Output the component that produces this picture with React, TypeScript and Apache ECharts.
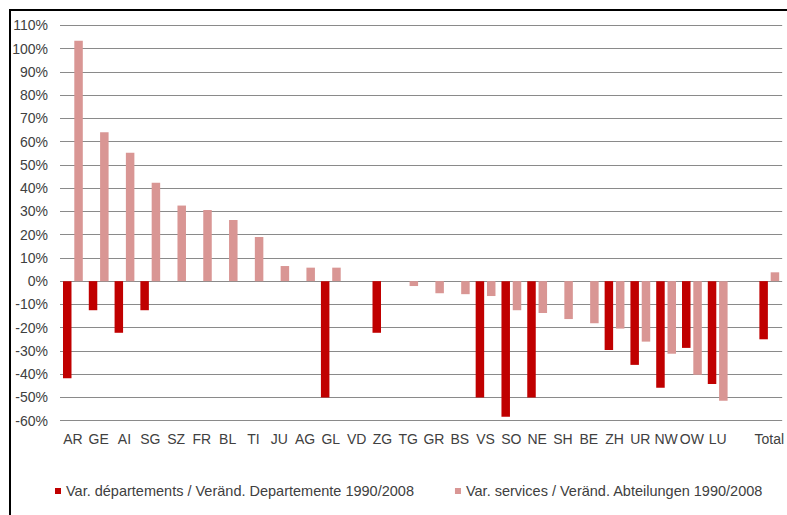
import React, { useEffect, useRef } from "react";
import * as echarts from "echarts";

const categories = ["AR", "GE", "AI", "SG", "SZ", "FR", "BL", "TI", "JU", "AG", "GL", "VD", "ZG", "TG", "GR", "BS", "VS", "SO", "NE", "SH", "BE", "ZH", "UR", "NW", "OW", "LU", "", "Total"];

const departements = [-41.7, -12.5, -22.2, -12.5, 0, 0, 0, 0, 0, 0, -50, 0, -22.2, 0, 0, 0, -50, -58.3, -50, 0, 0, -29.6, -36.0, -45.8, -28.7, -44.2, null, -25.0];

const services = [103.4, 64.0, 55.2, 42.3, 32.5, 30.6, 26.3, 19.0, 6.5, 5.8, 5.8, 0, 0, -2.1, -5.2, -5.6, -6.4, -12.5, -13.7, -16.3, -18.1, -20.4, -26.0, -31.2, -40.2, -51.4, null, 3.8];

const seriesNames = ["Var. départements / Veränd. Departemente 1990/2008", "Var. services / Veränd. Abteilungen 1990/2008"];

const yMin = -60;
const yMax = 110;
const yStep = 10;

const FONT = '"Liberation Sans", Arial, sans-serif';
const TEXT = "#404040";

export default function App() {
  const ref = useRef<HTMLDivElement>(null);
  useEffect(() => {
    if (!ref.current) return;
    const chart = echarts.init(ref.current, null, { renderer: "svg" });
    chart.setOption({
      animation: false,
      backgroundColor: "#ffffff",
      grid: { left: 60, right: 1, top: 25.3, bottom: 94.3, containLabel: false },
      legend: {
        data: seriesNames,
        left: 55,
        top: 483,
        padding: 0,
        itemWidth: 6,
        itemHeight: 6,
        itemGap: 41,
        icon: "rect",
        textStyle: { fontFamily: FONT, fontSize: 14.5, color: TEXT, lineHeight: 16 },
      },
      xAxis: {
        type: "category",
        data: categories,
        axisLine: { show: false, onZero: false },
        axisTick: { show: false },
        axisLabel: { interval: 0, margin: 11, fontFamily: FONT, fontSize: 14, color: TEXT },
      },
      yAxis: {
        type: "value",
        min: yMin,
        max: yMax,
        interval: yStep,
        axisLine: { show: false },
        axisTick: { show: false },
        axisLabel: { formatter: "{value}%", margin: 12, fontFamily: FONT, fontSize: 14, color: TEXT },
        splitLine: { show: true, lineStyle: { color: "#8a8a8a", width: 1 } },
      },
      series: [
        {
          name: seriesNames[0],
          type: "bar",
          data: departements,
          barWidth: 8.5,
          barGap: "33%",
          itemStyle: { color: "#C00000" },
        },
        {
          name: seriesNames[1],
          type: "bar",
          data: services,
          barWidth: 8.5,
          barGap: "33%",
          itemStyle: { color: "#D99694" },
        },
      ],
      graphic: [
        {
          type: "rect",
          shape: { x: 10, y: 10, width: 1000, height: 1000 },
          style: { fill: "none", stroke: "#000000", lineWidth: 2 },
          silent: true,
        },
      ],
    });
    return () => chart.dispose();
  }, []);
  return (
    <div
      ref={ref}
      style={{ position: "fixed", left: 0, top: 0, width: 787, height: 515 }}
    />
  );
}
